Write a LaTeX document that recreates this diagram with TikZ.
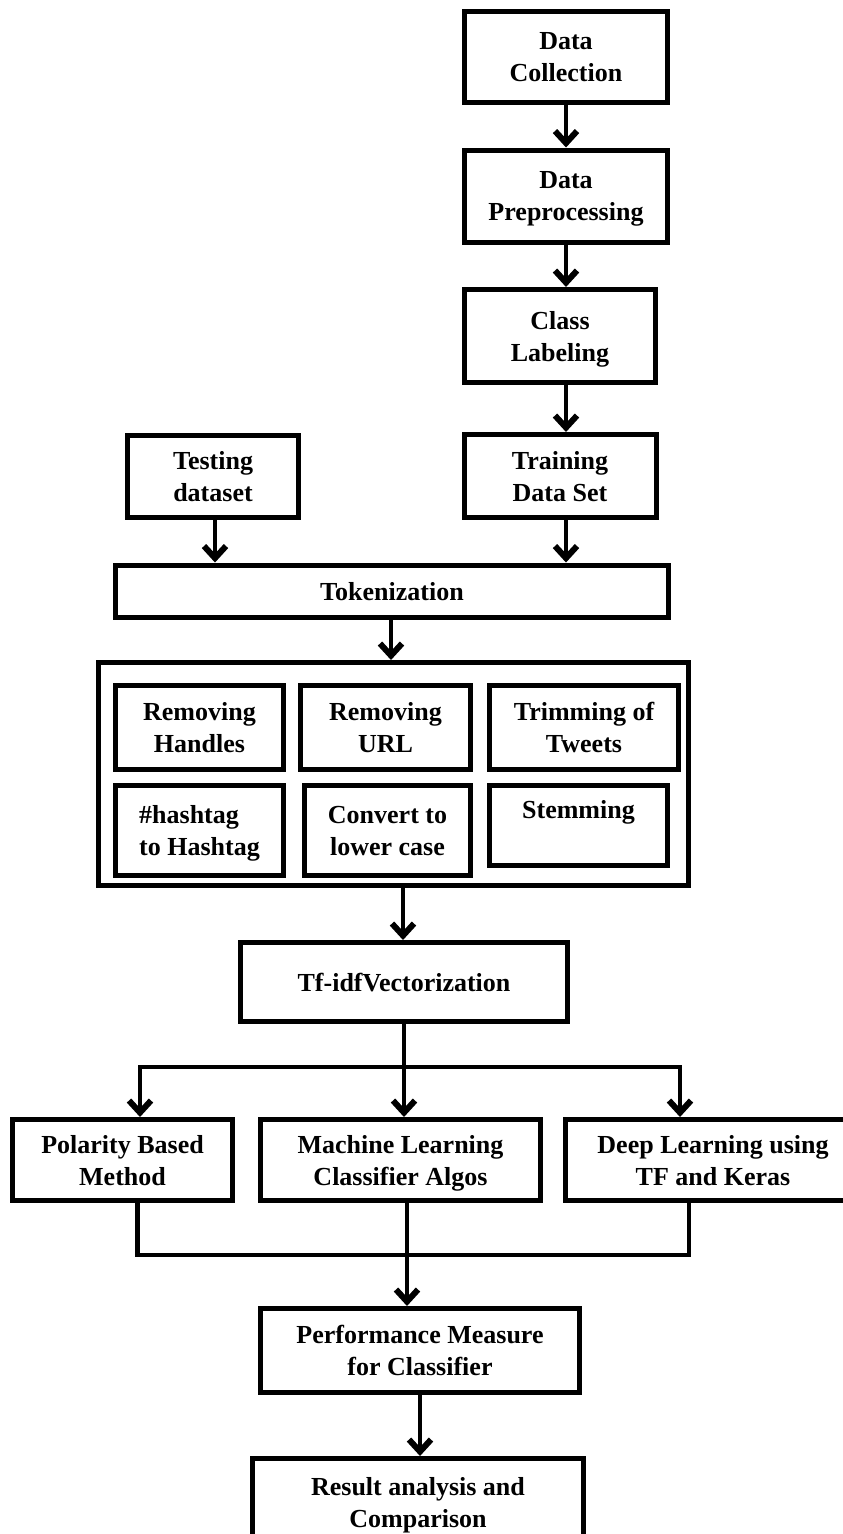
\documentclass[tikz,border=0pt]{standalone}
\usepackage{fontspec}
\setmainfont{Liberation Serif}
\usetikzlibrary{arrows.meta}
\begin{document}
\begin{tikzpicture}[x=1pt,y=-1pt,
  box/.style={draw, line width=5pt, align=center, inner sep=0pt, text depth=0pt,
    font=\fontsize{26}{32}\selectfont\bfseries},
  conn/.style={line width=4.5pt, line cap=rect},
  arr/.style={line width=4.5pt, -{Straight Barb[length=12pt,width=22pt,line width=6pt]}}]
\useasboundingbox (0,0) rectangle (843,1534);
\fill[white] (0,0) rectangle (843,1534);

% top chain
\node[box, minimum width=203pt, minimum height=91pt] (dc) at (566,57) {Data\\Collection};
\node[box, minimum width=203pt, minimum height=92pt] (dp) at (566,196) {Data\\Preprocessing};
\node[box, minimum width=191pt, minimum height=93pt] (cl) at (560,336) {Class\\Labeling};
\node[box, minimum width=171pt, minimum height=82pt] (test) at (213,476) {Testing\\dataset};
\node[box, minimum width=192pt, minimum height=83pt] (train) at (560,476) {Training\\Data Set};
\node[box, minimum width=553pt, minimum height=52pt] (tok) at (392,591) {Tokenization};

% preprocessing group
\node[box, minimum width=590pt, minimum height=223pt] (outer) at (393.5,774) {};
\node[box, minimum width=168pt, minimum height=84pt] (rh) at (199.5,727.5) {Removing\\Handles};
\node[box, minimum width=170pt, minimum height=84pt] (ru) at (385.5,727.5) {Removing\\URL};
\node[box, minimum width=189pt, minimum height=84pt] (tt) at (584,727.5) {Trimming of\\Tweets};
\node[box, minimum width=168pt, minimum height=90pt, align=left] (hh) at (199.5,830.5) {\#hashtag\\to Hashtag};
\node[box, minimum width=166pt, minimum height=90pt] (cv) at (387.5,830.5) {Convert to\\lower case};
\node[box, minimum width=178pt, minimum height=80pt] (st) at (578.5,825.5) {Stemming\\~};

\node[box, minimum width=327pt, minimum height=79pt] (tf) at (404,982) {Tf-idfVectorization};

% methods
\node[box, minimum width=220pt, minimum height=81pt] (pol) at (122.5,1160) {Polarity Based\\Method};
\node[box, minimum width=280pt, minimum height=81pt] (ml) at (400.5,1160) {Machine Learning\\Classifier Algos};
\node[box, minimum width=295pt, minimum height=81pt] (deep) at (713,1160) {Deep Learning using\\TF and Keras};

\node[box, minimum width=319pt, minimum height=84pt] (perf) at (420,1350.5) {Performance Measure\\for Classifier};
\node[box, minimum width=331pt, minimum height=87pt] (res) at (418,1502) {Result analysis and\\Comparison};

% arrows top chain
\draw[arr] (dc.south) -- (dc.south |- dp.north);
\draw[arr] (dp.south) -- (dp.south |- cl.north);
\draw[arr] (cl.south -| dc.south) -- (train.north -| dc.south);
\draw[arr] ([xshift=2pt]test.south) -- ([xshift=2pt]test.south |- tok.north);
\draw[arr] (train.south -| dc.south) -- (tok.north -| dc.south);
\draw[arr] ([xshift=-1pt]tok.south) -- ([xshift=-1pt]tok.south |- outer.north);
\draw[arr] ([xshift=9.5pt]outer.south) -- ([xshift=9.5pt]outer.south |- tf.north);

% branch
\coordinate (br) at (404,1067);
\coordinate (bl) at (140,1067);
\coordinate (brr) at (680,1067);
\draw[conn] (tf.south) -- (br);
\draw[conn] (bl) -- (brr);
\draw[arr] (bl) -- (bl |- pol.north);
\draw[arr] (br) -- (br |- ml.north);
\draw[arr] (brr) -- (brr |- deep.north);

% merge
\coordinate (mj) at (407,1255);
\draw[conn] ([xshift=15pt]pol.south) |- (mj) -| ([xshift=-24pt]deep.south);
\draw[arr] ([xshift=6.5pt]ml.south) -- ([xshift=6.5pt]ml.south |- perf.north);
\draw[arr] (perf.south) -- (perf.south |- res.north);
\end{tikzpicture}
\end{document}
